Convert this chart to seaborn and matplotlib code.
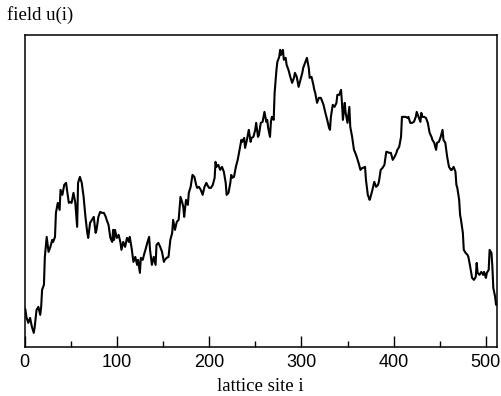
import matplotlib
matplotlib.use("Agg")
import matplotlib.pyplot as plt
import pandas as pd
import seaborn as sns

# lattice sites and field values (y in arbitrary units)
sites = [0, 1, 2, 4, 6, 8, 10, 11, 13, 15, 17, 18, 19, 21, 22, 24, 26, 28, 30, 31,
         33, 34, 36, 38, 39, 41, 43, 45, 46, 48, 49, 51, 53, 55, 57, 58, 60, 62, 64, 66,
         68, 69, 71, 73, 75, 77, 78, 80, 82, 84, 86, 88, 89, 91, 93, 95, 96, 97, 98, 100,
         102, 104, 105, 107, 109, 111, 113, 114, 116, 118, 120, 122, 123, 125, 126, 128, 130, 131, 133, 135,
         136, 138, 140, 142, 143, 145, 147, 149, 151, 152, 154, 156, 158, 160, 161, 163, 165, 167, 169, 171,
         172, 173, 175, 177, 178, 180, 182, 184, 186, 187, 189, 191, 193, 195, 197, 198, 200, 202, 204, 206,
         207, 208, 210, 212, 214, 216, 218, 219, 221, 223, 224, 225, 227, 229, 231, 233, 235, 236, 238, 239,
         241, 243, 245, 246, 248, 250, 251, 253, 254, 256, 258, 260, 262, 263, 264, 266, 267, 268, 270, 271,
         273, 274, 276, 277, 278, 280, 281, 283, 284, 286, 288, 290, 292, 293, 295, 297, 299, 301, 302, 304,
         306, 308, 309, 311, 313, 314, 315, 317, 319, 321, 322, 324, 326, 328, 330, 331, 332, 334, 336, 338,
         339, 341, 343, 344, 345, 347, 348, 350, 352, 353, 355, 357, 358, 360, 362, 364, 366, 367, 369, 370,
         372, 374, 375, 377, 379, 381, 383, 384, 386, 388, 390, 392, 393, 395, 397, 399, 401, 403, 404, 406,
         408, 409, 411, 413, 415, 416, 418, 420, 422, 424, 425, 427, 429, 430, 431, 433, 435, 437, 439, 441,
         442, 444, 446, 447, 449, 451, 453, 454, 456, 458, 460, 462, 463, 465, 467, 468, 469, 471, 472, 473,
         475, 476, 478, 480, 481, 483, 485, 487, 489, 490, 491, 493, 495, 497, 498, 500, 501, 503, 504, 506,
         507, 508, 510, 511]
field = [39, 37, 30, 24, 29, 20, 14, 20, 37, 40, 32, 40, 57, 62, 90, 110, 95, 100, 107, 105,
         110, 134, 144, 137, 157, 152, 162, 164, 157, 144, 145, 144, 154, 144, 120, 164, 170, 164, 150, 130,
         114, 109, 124, 127, 130, 114, 117, 130, 135, 134, 134, 130, 127, 122, 109, 105, 117, 107, 117, 109,
         112, 104, 97, 105, 100, 109, 105, 110, 99, 85, 90, 82, 87, 74, 89, 87, 94, 97, 104, 110,
         97, 82, 90, 82, 102, 104, 100, 95, 85, 87, 89, 90, 107, 114, 127, 117, 125, 127, 150, 144,
         140, 130, 147, 142, 154, 160, 172, 170, 162, 159, 160, 157, 152, 160, 164, 162, 159, 159, 162, 169,
         185, 180, 182, 177, 180, 175, 164, 152, 154, 164, 172, 169, 170, 180, 187, 197, 207, 205, 209, 199,
         207, 217, 205, 209, 210, 217, 224, 210, 212, 224, 225, 235, 225, 227, 219, 210, 225, 230, 227, 254,
         277, 285, 290, 297, 292, 297, 287, 289, 282, 277, 270, 264, 269, 274, 270, 260, 267, 274, 279, 284,
         289, 279, 269, 270, 262, 257, 254, 244, 249, 249, 247, 242, 234, 227, 219, 217, 230, 242, 240, 244,
         252, 252, 257, 244, 227, 244, 234, 224, 240, 220, 210, 197, 195, 190, 184, 177, 179, 179, 180, 167,
         152, 147, 150, 157, 165, 160, 162, 165, 177, 179, 182, 195, 195, 194, 194, 187, 190, 194, 197, 200,
         210, 230, 230, 230, 229, 230, 224, 224, 225, 230, 235, 230, 225, 234, 230, 230, 229, 224, 214, 210,
         207, 204, 197, 204, 205, 210, 217, 207, 204, 190, 180, 177, 177, 180, 175, 162, 159, 147, 132, 127,
         114, 97, 94, 92, 90, 80, 69, 67, 70, 84, 74, 72, 75, 72, 75, 69, 74, 77, 97, 94,
         80, 59, 50, 42]

major_ticks = [0, 100, 200, 300, 400, 500]
minor_ticks = [50, 150, 250, 350, 450]

df = pd.DataFrame({"site": sites, "u": field})

sns.set_theme(style="white")
plt.rcParams["font.family"] = ["Liberation Sans", "DejaVu Sans"]

fig = plt.figure(figsize=(5.01, 3.96), dpi=100)
ax = fig.add_axes([0.049, 0.124, 0.943, 0.788])

sns.lineplot(data=df, x="site", y="u", color="black", linewidth=1.5,
             estimator=None, sort=False, ax=ax)

ax.set_xlim(0, 512)
ax.set_ylim(0, 312)
ax.set_yticks([])
ax.set_xticks(major_ticks)
ax.set_xticks(minor_ticks, minor=True)
ax.tick_params(axis="x", which="major", direction="in", length=8, width=1.0,
               color="black", labelsize=13, labelcolor="black", pad=5, top=False, bottom=True)
ax.tick_params(axis="x", which="minor", direction="in", length=4, width=1.0,
               color="black", top=False, bottom=True)

for sp in ax.spines.values():
    sp.set_visible(True)
    sp.set_color("black")
    sp.set_linewidth(1.1)

ax.set_xlabel("lattice site i", family=["Liberation Serif", "DejaVu Serif"],
              fontsize=13.5, labelpad=5, color="black")
ax.set_ylabel("")
fig.text(7 / 501, 1 - 15 / 396, "field u(i)", family=["Liberation Serif", "DejaVu Serif"],
         fontsize=13.5, ha="left", va="center", color="black")

fig.savefig("out.png", dpi=100)
